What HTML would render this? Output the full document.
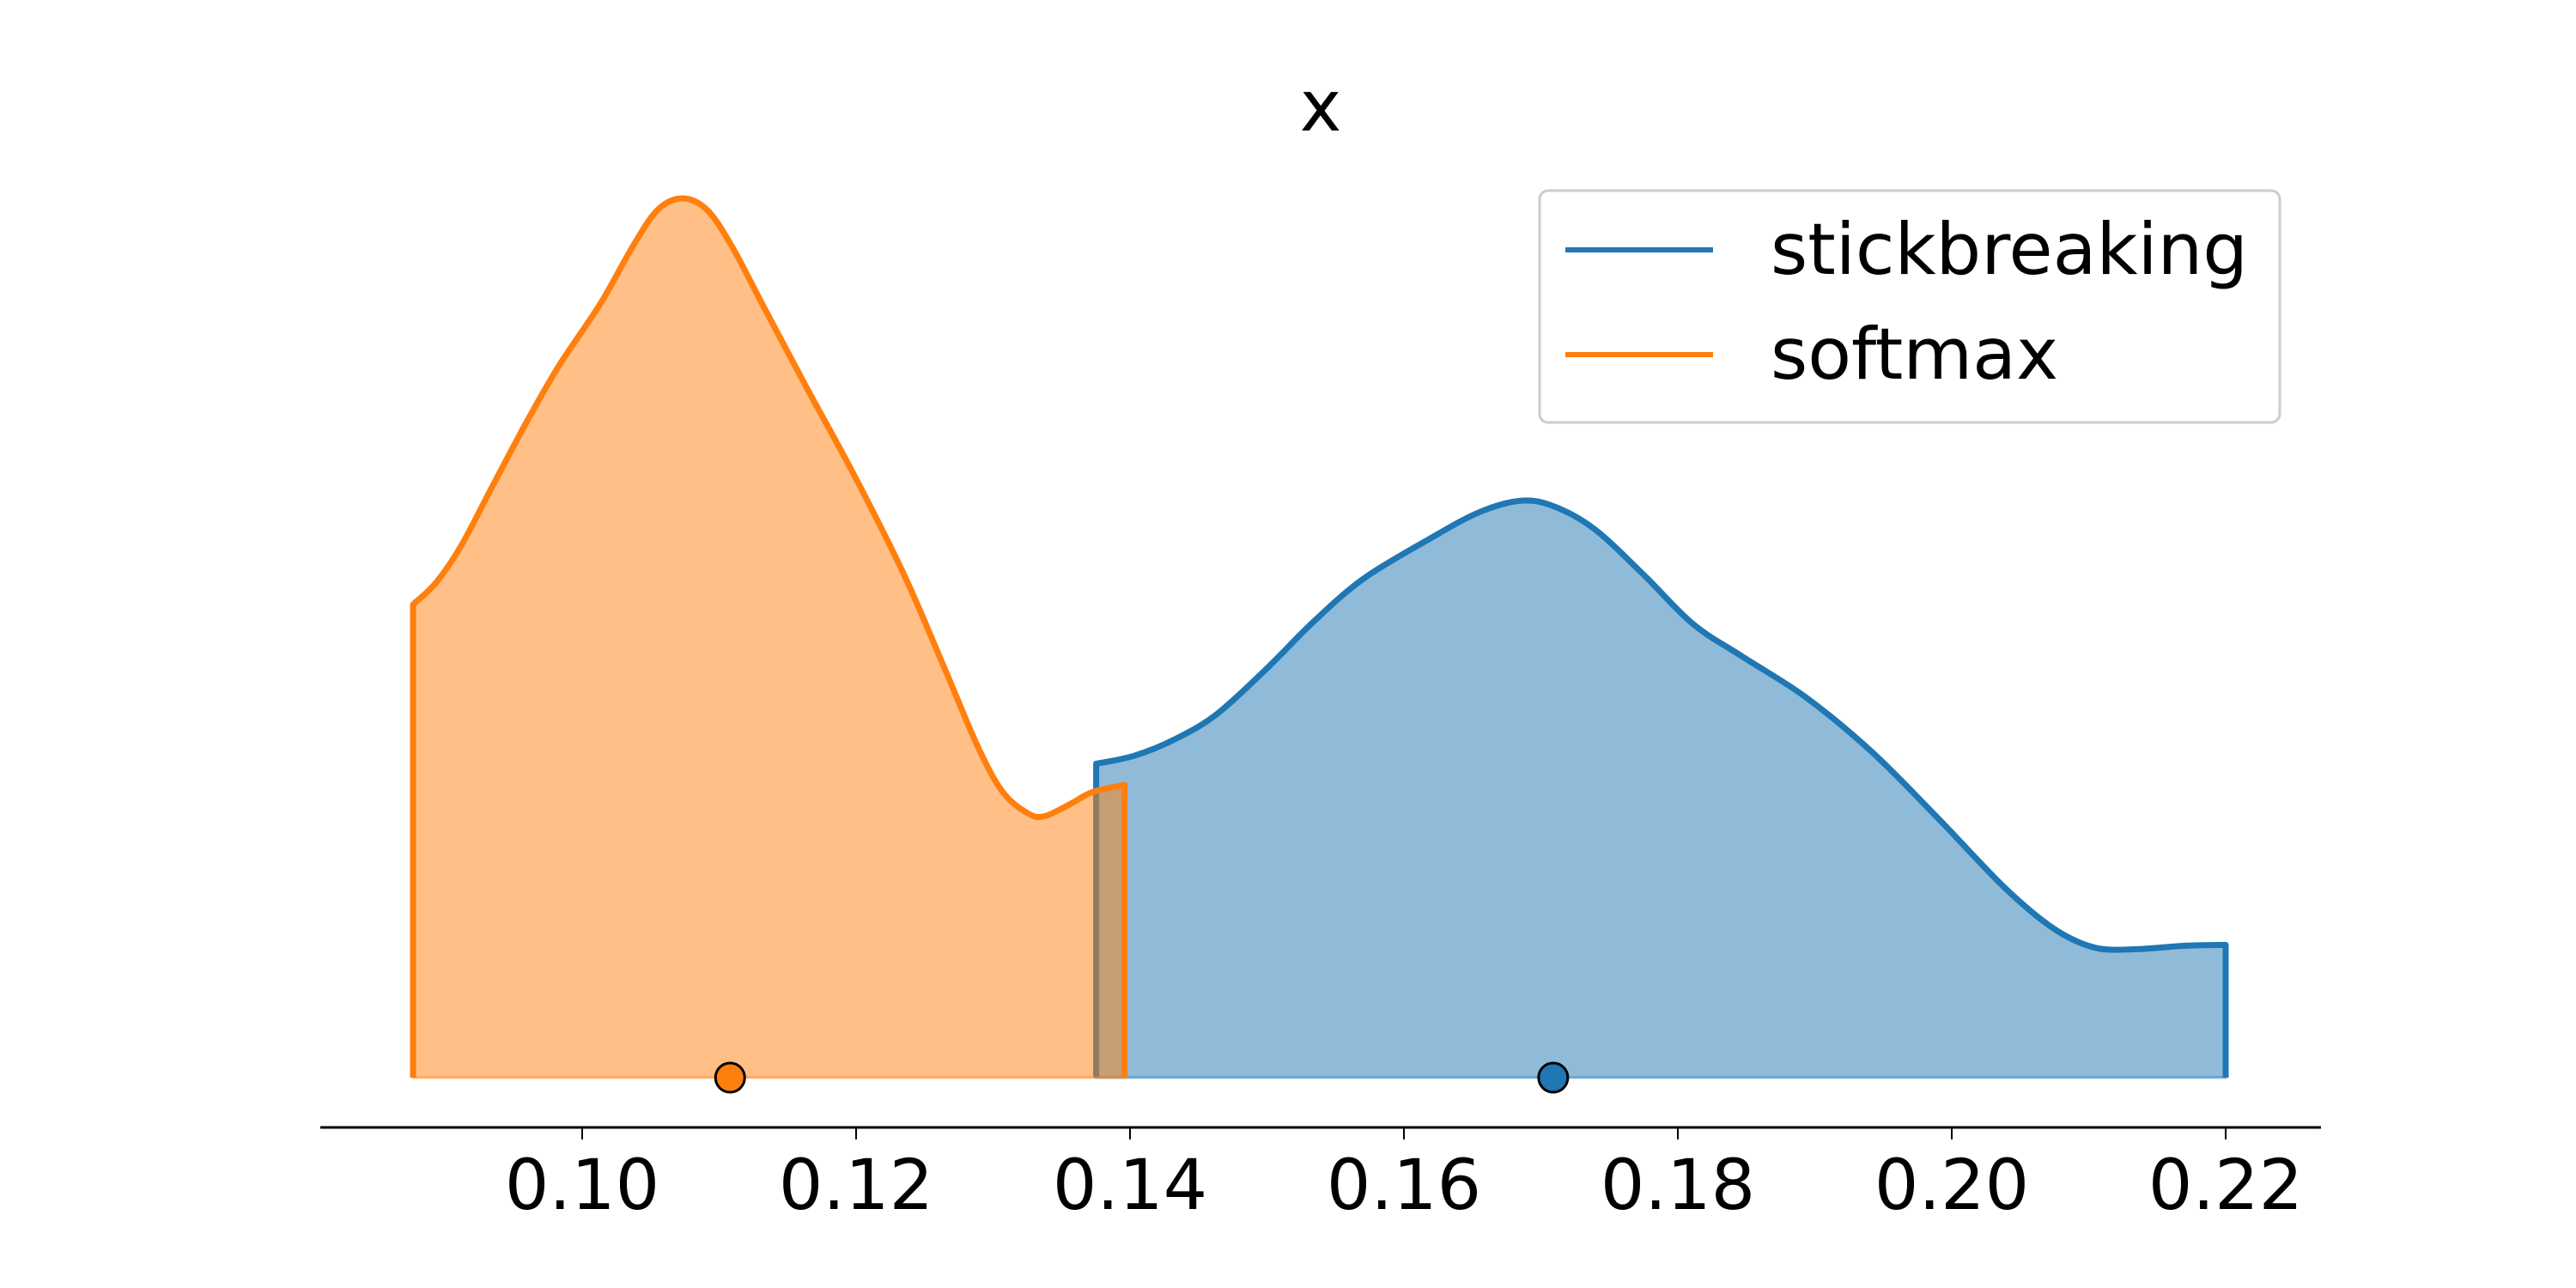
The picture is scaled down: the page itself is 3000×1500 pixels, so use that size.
<!DOCTYPE html>
<html>
<head>
<meta charset="utf-8">
<style>
  html, body { margin: 0; padding: 0; background: #ffffff; }
  svg { display: block; }
  text { font-family: "DejaVu Sans", "Liberation Sans", sans-serif; fill: #000; }
</style>
</head>
<body>
<svg id="chart" width="3000" height="1500" viewBox="0 0 3000 1500" xmlns="http://www.w3.org/2000/svg">
  <rect x="0" y="0" width="3000" height="1500" fill="#ffffff"/>
  <text x="1538" y="152" font-size="82" text-anchor="middle">x</text>
  <g id="plot"></g>
  <g id="xaxis"></g>
  <g>
    <rect x="1793" y="222" width="862" height="270" rx="10" ry="10" fill="#ffffff" fill-opacity="0.8" stroke="#cccccc" stroke-width="3"/>
    <g>
      <line x1="1823" y1="291" x2="1995" y2="291" stroke="#1f77b4" stroke-width="6"/>
      <text x="2062" y="319" font-size="83">stickbreaking</text>
    </g>
    <g>
      <line x1="1823" y1="413" x2="1995" y2="413" stroke="#ff7f0e" stroke-width="6"/>
      <text x="2062" y="441" font-size="83">softmax</text>
    </g>
  </g>
</svg>
<script>
const softmaxX = [0.08765,0.08933,0.09113,0.09353,0.09592,0.09832,0.10132,0.10372,0.10552,0.10731,0.10911,0.11091,0.11331,0.11631,0.1199,0.1235,0.1265,0.1289,0.1307,0.1325,0.1337,0.1355,0.1373,0.1396];
const softmaxY = [0.538,0.563,0.604,0.675,0.745,0.810,0.880,0.946,0.987,1.0,0.987,0.946,0.875,0.787,0.684,0.572,0.464,0.376,0.325,0.301,0.297,0.310,0.325,0.333];
const stickX = [0.13753,0.1403,0.1433,0.1463,0.1499,0.1535,0.1571,0.1619,0.1655,0.1685,0.1709,0.1739,0.1775,0.1811,0.1847,0.1894,0.1942,0.1990,0.2038,0.2074,0.2104,0.2134,0.2170,0.2200];
const stickY = [0.357,0.366,0.385,0.413,0.464,0.520,0.568,0.613,0.643,0.656,0.650,0.624,0.572,0.516,0.479,0.432,0.370,0.295,0.217,0.170,0.148,0.146,0.150,0.151];
const means = [0.1709, 0.1108];
const meanNames = ['stickbreaking', 'softmax'];
const tickValues = [0.10,0.12,0.14,0.16,0.18,0.20,0.22];
const tickLabels = ['0.10','0.12','0.14','0.16','0.18','0.20','0.22'];

const NS = 'http://www.w3.org/2000/svg';
function sx(v) { return 678 + (v - 0.10) / 0.02 * 319; }
function sy(d) { return 1255 - d * 1024; }
function mk(tag, attrs, parent) {
  const e = document.createElementNS(NS, tag);
  for (const k in attrs) e.setAttribute(k, attrs[k]);
  parent.appendChild(e);
  return e;
}
function smoothPath(xs, ys) {
  const pts = xs.map((x, i) => [sx(x), sy(ys[i])]);
  let d = 'M' + pts[0][0] + ',' + pts[0][1];
  for (let i = 0; i < pts.length - 1; i++) {
    const p0 = pts[i - 1] || pts[i], p1 = pts[i], p2 = pts[i + 1], p3 = pts[i + 2] || p2;
    const c1x = p1[0] + (p2[0] - p0[0]) / 6, c1y = p1[1] + (p2[1] - p0[1]) / 6;
    const c2x = p2[0] - (p3[0] - p1[0]) / 6, c2y = p2[1] - (p3[1] - p1[1]) / 6;
    d += ' C' + c1x + ',' + c1y + ' ' + c2x + ',' + c2y + ' ' + p2[0] + ',' + p2[1];
  }
  return d;
}
const plot = document.getElementById('plot');
function series(xs, ys, color, name) {
  const curve = smoothPath(xs, ys);
  const x0 = sx(xs[0]), x1 = sx(xs[xs.length - 1]), b = sy(0);
  const fill = mk('path', { d: 'M' + x0 + ',' + b + ' L' + curve.slice(1) + ' L' + x1 + ',' + b + ' Z', fill: color, 'fill-opacity': 0.5, stroke: color, 'stroke-opacity': 0.5, 'stroke-width': 3 }, plot);
  
  
  const line = mk('path', { d: 'M' + x0 + ',' + b + ' L' + curve.slice(1) + ' L' + x1 + ',' + b, fill: 'none', stroke: color, 'stroke-width': 7, 'stroke-linejoin': 'round' }, plot);
  
  
}
series(stickX, stickY, '#1f77b4', 'stickbreaking');
series(softmaxX, softmaxY, '#ff7f0e', 'softmax');
const meanColors = ['#1f77b4', '#ff7f0e'];
means.forEach((m, i) => {
  const c = mk('circle', { cx: sx(m), cy: sy(0), r: 17, fill: meanColors[i], stroke: '#000', 'stroke-width': 3 }, plot);
  
  
});
const xa = document.getElementById('xaxis');
const axl = mk('line', { x1: 373, y1: 1313, x2: 2703, y2: 1313, stroke: '#000', 'stroke-width': 3 }, xa);


tickValues.forEach((v, i) => {
  const t = mk('line', { x1: sx(v), y1: 1313, x2: sx(v), y2: 1327, stroke: '#000', 'stroke-width': 2 }, xa);
  
  
  const l = mk('text', { x: sx(v), y: 1408, 'font-size': 81, 'text-anchor': 'middle' }, xa);
  l.textContent = tickLabels[i];
  
  
});
</script>
</body>
</html>
